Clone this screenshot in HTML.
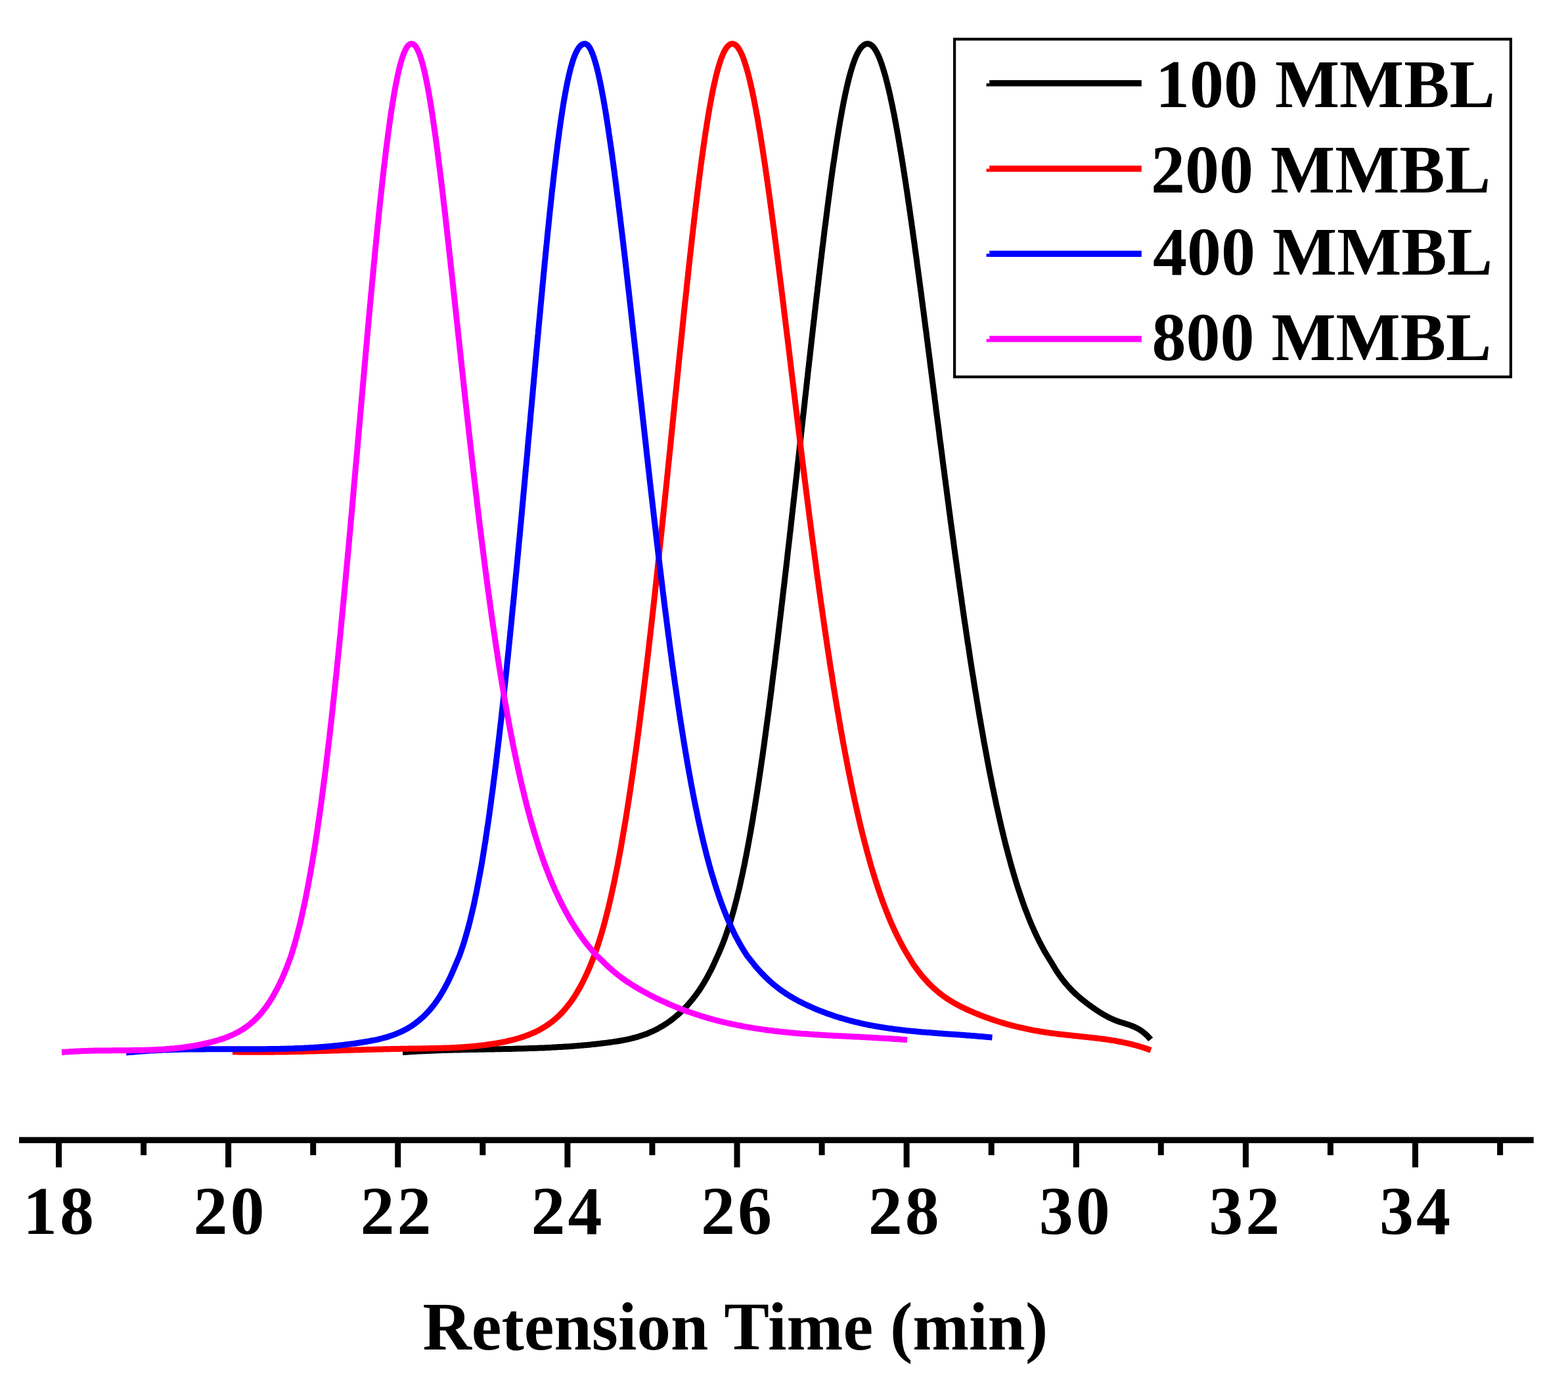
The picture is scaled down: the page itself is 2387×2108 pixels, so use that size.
<!DOCTYPE html>
<html><head><meta charset="utf-8"><title>Retension Time</title>
<style>
html,body{margin:0;padding:0;background:#fff;}
body{width:2387px;height:2108px;overflow:hidden;}
svg{display:block;}
.t{font-family:'Liberation Serif', serif;font-weight:bold;font-size:104px;fill:#000;}
</style></head><body>
<svg width="2387" height="2108" viewBox="0 0 2387 2108">
<path d="M613.0 1601.6L616.0 1601.4L619.0 1601.2L622.0 1601.0L625.1 1600.8L628.1 1600.6L631.1 1600.5L634.1 1600.3L637.1 1600.1L640.1 1600.0L643.1 1599.8L646.2 1599.7L649.2 1599.5L652.2 1599.4L655.2 1599.3L658.2 1599.2L661.2 1599.0L664.2 1598.9L667.3 1598.8L670.3 1598.7L673.3 1598.6L676.3 1598.5L679.3 1598.4L682.3 1598.3L685.3 1598.2L688.4 1598.2L691.4 1598.1L694.4 1598.0L697.4 1597.9L700.4 1597.9L703.4 1597.8L706.4 1597.7L709.5 1597.7L712.5 1597.6L715.5 1597.6L718.5 1597.5L721.5 1597.4L724.5 1597.4L727.6 1597.3L730.6 1597.3L733.6 1597.2L736.6 1597.2L739.6 1597.1L742.6 1597.1L745.6 1597.0L748.7 1597.0L751.7 1596.9L754.7 1596.8L757.7 1596.8L760.7 1596.7L763.7 1596.7L766.7 1596.6L769.8 1596.6L772.8 1596.5L775.8 1596.4L778.8 1596.4L781.8 1596.3L784.8 1596.2L787.8 1596.1L790.9 1596.1L793.9 1596.0L796.9 1595.9L799.9 1595.8L802.9 1595.7L805.9 1595.6L808.9 1595.5L812.0 1595.4L815.0 1595.3L818.0 1595.2L821.0 1595.1L824.0 1595.0L827.0 1594.9L830.0 1594.7L833.1 1594.6L836.1 1594.4L839.1 1594.3L842.1 1594.1L845.1 1594.0L848.1 1593.8L851.1 1593.6L854.2 1593.5L857.2 1593.3L860.2 1593.1L863.2 1592.9L866.2 1592.7L869.2 1592.5L872.2 1592.2L875.3 1592.0L878.3 1591.8L881.3 1591.5L884.3 1591.3L887.3 1591.0L890.3 1590.7L893.3 1590.5L896.4 1590.2L899.4 1589.9L902.4 1589.5L905.4 1589.2L908.4 1588.9L911.4 1588.6L914.4 1588.2L917.5 1587.8L920.5 1587.5L923.5 1587.1L926.5 1586.7L929.5 1586.3L932.5 1585.9L935.5 1585.4L938.6 1585.0L941.6 1584.5L944.6 1584.0L947.6 1583.5L950.6 1582.9L953.6 1582.3L956.7 1581.7L959.7 1581.0L962.7 1580.2L965.7 1579.5L968.7 1578.6L971.7 1577.8L974.7 1576.8L977.8 1575.8L980.8 1574.8L983.8 1573.7L986.8 1572.5L989.8 1571.2L992.8 1569.9L995.8 1568.5L998.9 1567.0L1001.9 1565.4L1004.9 1563.7L1007.9 1562.0L1010.9 1560.1L1013.9 1558.2L1016.9 1556.1L1020.0 1554.0L1023.0 1551.8L1026.0 1549.4L1029.0 1546.9L1032.0 1544.3L1035.0 1541.6L1038.0 1538.8L1041.1 1535.8L1044.1 1532.7L1047.1 1529.4L1050.1 1525.9L1053.1 1522.3L1056.1 1518.6L1059.1 1514.6L1062.2 1510.5L1065.2 1506.1L1068.2 1501.5L1071.2 1496.6L1074.2 1491.5L1077.2 1486.2L1080.2 1480.5L1083.3 1474.6L1086.3 1468.3L1092.3 1455.0L1095.6 1447.6L1098.7 1440.2L1101.6 1432.8L1104.4 1425.4L1106.9 1418.0L1109.4 1410.7L1111.7 1403.4L1113.9 1396.0L1116.0 1388.7L1118.0 1381.5L1119.9 1374.2L1121.8 1366.9L1123.5 1359.7L1125.3 1352.5L1126.9 1345.2L1128.5 1338.0L1130.1 1330.9L1131.6 1323.7L1133.1 1316.6L1134.5 1309.4L1135.9 1302.3L1137.3 1295.2L1138.6 1288.1L1139.9 1281.0L1141.2 1274.0L1142.5 1266.9L1143.7 1259.9L1144.9 1252.9L1146.1 1245.9L1147.2 1238.9L1148.4 1231.9L1149.5 1225.0L1150.6 1218.1L1151.7 1211.1L1152.8 1204.2L1153.8 1197.4L1154.9 1190.5L1155.9 1183.6L1156.9 1176.8L1157.9 1170.0L1158.9 1163.2L1159.9 1156.4L1160.9 1149.6L1161.8 1142.8L1162.8 1136.1L1163.7 1129.4L1164.6 1122.6L1165.5 1115.9L1166.4 1109.3L1167.3 1102.6L1168.2 1096.0L1169.1 1089.3L1170.0 1082.7L1170.9 1076.1L1171.7 1069.5L1172.6 1062.9L1173.4 1056.4L1174.3 1049.9L1175.1 1043.3L1175.9 1036.8L1176.7 1030.3L1177.5 1023.9L1178.4 1017.4L1179.2 1011.0L1180.0 1004.6L1180.7 998.2L1181.5 991.8L1182.3 985.4L1183.1 979.0L1183.9 972.7L1184.6 966.4L1185.4 960.1L1186.1 953.8L1186.9 947.5L1187.6 941.3L1188.4 935.0L1189.1 928.8L1189.8 922.6L1190.6 916.4L1191.3 910.2L1192.0 904.1L1192.7 897.9L1193.5 891.8L1194.2 885.7L1194.9 879.6L1195.6 873.6L1196.3 867.5L1197.0 861.5L1197.7 855.4L1198.4 849.4L1199.0 843.5L1199.7 837.5L1200.4 831.5L1201.1 825.6L1201.8 819.7L1202.4 813.8L1203.1 807.9L1203.8 802.1L1204.4 796.2L1205.1 790.4L1205.7 784.6L1206.4 778.8L1207.0 773.0L1207.7 767.2L1208.3 761.5L1209.0 755.8L1209.6 750.1L1210.3 744.4L1210.9 738.7L1211.5 733.1L1212.2 727.4L1212.8 721.8L1213.4 716.2L1214.0 710.6L1214.6 705.1L1215.3 699.5L1215.9 694.0L1216.5 688.5L1217.1 683.0L1217.7 677.5L1218.3 672.1L1218.9 666.7L1219.5 661.2L1220.1 655.9L1220.7 650.5L1221.3 645.1L1221.9 639.8L1222.5 634.5L1223.1 629.1L1223.7 623.9L1224.3 618.6L1224.9 613.3L1225.4 608.1L1226.0 602.9L1226.6 597.7L1227.2 592.5L1227.8 587.4L1228.3 582.3L1228.9 577.1L1229.5 572.0L1230.0 567.0L1230.6 561.9L1231.2 556.9L1231.7 551.9L1232.3 546.9L1232.9 541.9L1233.4 536.9L1234.0 532.0L1234.5 527.1L1235.1 522.2L1235.6 517.3L1236.2 512.4L1236.7 507.6L1237.3 502.7L1237.8 497.9L1238.4 493.2L1238.9 488.4L1239.5 483.7L1240.0 478.9L1240.5 474.2L1241.1 469.5L1241.6 464.9L1242.2 460.2L1242.7 455.6L1243.2 451.0L1243.8 446.4L1244.3 441.9L1244.8 437.3L1245.4 432.8L1245.9 428.3L1246.4 423.9L1246.9 419.4L1247.5 415.0L1248.0 410.6L1248.5 406.2L1249.0 401.8L1249.5 397.4L1250.1 393.1L1250.6 388.8L1251.1 384.5L1251.6 380.3L1252.1 376.0L1252.7 371.8L1253.2 367.6L1253.7 363.4L1254.2 359.3L1254.7 355.1L1255.2 351.0L1255.7 346.9L1256.2 342.9L1256.8 338.8L1257.3 334.8L1257.8 330.8L1258.3 326.8L1258.8 322.9L1259.3 318.9L1259.8 315.0L1260.3 311.1L1260.8 307.3L1261.3 303.4L1261.8 299.6L1262.3 295.8L1262.8 292.1L1263.3 288.3L1263.8 284.6L1264.3 280.9L1264.8 277.2L1265.3 273.6L1265.8 269.9L1266.3 266.3L1266.8 262.8L1267.3 259.2L1267.8 255.7L1268.3 252.2L1268.8 248.7L1269.4 245.2L1269.9 241.8L1270.4 238.4L1270.9 235.0L1271.4 231.7L1271.9 228.3L1272.4 225.0L1272.9 221.7L1273.4 218.5L1273.9 215.3L1274.4 212.1L1274.9 208.9L1275.4 205.7L1275.9 202.6L1276.4 199.5L1276.9 196.5L1277.4 193.4L1277.9 190.4L1278.4 187.4L1278.9 184.4L1279.5 181.5L1280.0 178.6L1280.5 175.7L1281.0 172.9L1281.5 170.1L1282.0 167.3L1282.5 164.5L1283.1 161.8L1283.6 159.1L1284.1 156.4L1284.6 153.8L1285.2 151.1L1285.7 148.6L1286.2 146.0L1286.7 143.5L1287.3 141.0L1287.8 138.5L1288.4 136.1L1288.9 133.7L1289.4 131.3L1290.0 129.0L1290.5 126.7L1291.1 124.4L1291.6 122.2L1292.2 120.0L1292.7 117.8L1293.3 115.6L1293.9 113.5L1294.4 111.5L1295.0 109.4L1295.6 107.4L1296.2 105.5L1296.8 103.6L1297.4 101.7L1297.9 99.8L1298.5 98.0L1299.2 96.2L1299.8 94.5L1300.4 92.8L1301.0 91.1L1301.6 89.5L1302.3 87.9L1302.9 86.4L1303.6 84.9L1304.2 83.5L1304.9 82.1L1305.6 80.7L1306.3 79.4L1307.0 78.2L1307.7 77.0L1308.4 75.8L1309.2 74.7L1309.9 73.6L1310.7 72.6L1311.5 71.7L1312.3 70.8L1313.2 70.0L1314.0 69.3L1314.9 68.6L1315.9 68.0L1316.9 67.5L1318.0 67.1L1319.2 66.8L1320.9 66.6L1322.4 66.8L1323.5 67.1L1324.5 67.5L1325.5 68.0L1326.3 68.6L1327.2 69.3L1328.0 70.0L1328.8 70.8L1329.6 71.7L1330.3 72.6L1331.1 73.6L1331.8 74.7L1332.5 75.8L1333.2 77.0L1333.9 78.2L1334.6 79.4L1335.3 80.7L1335.9 82.1L1336.6 83.5L1337.3 84.9L1337.9 86.4L1338.6 87.9L1339.2 89.5L1339.8 91.1L1340.5 92.8L1341.1 94.5L1341.7 96.2L1342.3 98.0L1342.9 99.8L1343.5 101.7L1344.1 103.6L1344.7 105.5L1345.3 107.4L1345.9 109.4L1346.5 111.5L1347.1 113.5L1347.7 115.6L1348.3 117.8L1348.9 120.0L1349.4 122.2L1350.0 124.4L1350.6 126.7L1351.2 129.0L1351.7 131.3L1352.3 133.7L1352.9 136.1L1353.5 138.5L1354.0 141.0L1354.6 143.5L1355.2 146.0L1355.7 148.6L1356.3 151.1L1356.8 153.8L1357.4 156.4L1358.0 159.1L1358.5 161.8L1359.1 164.5L1359.6 167.3L1360.2 170.1L1360.8 172.9L1361.3 175.7L1361.9 178.6L1362.4 181.5L1363.0 184.4L1363.5 187.4L1364.1 190.4L1364.6 193.4L1365.2 196.5L1365.8 199.5L1366.3 202.6L1366.9 205.7L1367.4 208.9L1368.0 212.1L1368.5 215.3L1369.1 218.5L1369.6 221.7L1370.2 225.0L1370.7 228.3L1371.3 231.7L1371.8 235.0L1372.4 238.4L1373.0 241.8L1373.5 245.2L1374.1 248.7L1374.6 252.2L1375.2 255.7L1375.7 259.2L1376.3 262.8L1376.8 266.3L1377.4 269.9L1378.0 273.6L1378.5 277.2L1379.1 280.9L1379.6 284.6L1380.2 288.3L1380.8 292.1L1381.3 295.8L1381.9 299.6L1382.4 303.4L1383.0 307.3L1383.6 311.1L1384.1 315.0L1384.7 318.9L1385.3 322.9L1385.8 326.8L1386.4 330.8L1387.0 334.8L1387.6 338.8L1388.1 342.9L1388.7 346.9L1389.3 351.0L1389.8 355.1L1390.4 359.3L1391.0 363.4L1391.6 367.6L1392.2 371.8L1392.7 376.0L1393.3 380.3L1393.9 384.5L1394.5 388.8L1395.1 393.1L1395.7 397.4L1396.2 401.8L1396.8 406.2L1397.4 410.6L1398.0 415.0L1398.6 419.4L1399.2 423.9L1399.8 428.3L1400.4 432.8L1401.0 437.3L1401.6 441.9L1402.2 446.4L1402.8 451.0L1403.4 455.6L1404.0 460.2L1404.6 464.9L1405.2 469.5L1405.9 474.2L1406.5 478.9L1407.1 483.7L1407.7 488.4L1408.3 493.2L1408.9 497.9L1409.6 502.7L1410.2 507.6L1410.8 512.4L1411.4 517.3L1412.1 522.2L1412.7 527.1L1413.3 532.0L1414.0 536.9L1414.6 541.9L1415.3 546.9L1415.9 551.9L1416.5 556.9L1417.2 561.9L1417.8 567.0L1418.5 572.0L1419.1 577.1L1419.8 582.3L1420.5 587.4L1421.1 592.5L1421.8 597.7L1422.5 602.9L1423.1 608.1L1423.8 613.3L1424.5 618.6L1425.1 623.9L1425.8 629.1L1426.5 634.5L1427.2 639.8L1427.9 645.1L1428.6 650.5L1429.3 655.9L1429.9 661.2L1430.6 666.7L1431.3 672.1L1432.1 677.5L1432.8 683.0L1433.5 688.5L1434.2 694.0L1434.9 699.5L1435.6 705.1L1436.3 710.6L1437.1 716.2L1437.8 721.8L1438.5 727.4L1439.3 733.1L1440.0 738.7L1440.8 744.4L1441.5 750.1L1442.3 755.8L1443.0 761.5L1443.8 767.2L1444.5 773.0L1445.3 778.8L1446.1 784.6L1446.8 790.4L1447.6 796.2L1448.4 802.1L1449.2 807.9L1450.0 813.8L1450.8 819.7L1451.6 825.6L1452.4 831.5L1453.2 837.5L1454.0 843.5L1454.8 849.4L1455.7 855.4L1456.5 861.5L1457.3 867.5L1458.2 873.6L1459.0 879.6L1459.9 885.7L1460.7 891.8L1461.6 897.9L1462.5 904.1L1463.4 910.2L1464.2 916.4L1465.1 922.6L1466.0 928.8L1466.9 935.0L1467.8 941.3L1468.7 947.5L1469.7 953.8L1470.6 960.1L1471.5 966.4L1472.5 972.7L1473.4 979.0L1474.4 985.4L1475.4 991.8L1476.3 998.2L1477.3 1004.6L1478.3 1011.0L1479.3 1017.4L1480.3 1023.9L1481.4 1030.3L1482.4 1036.8L1483.4 1043.3L1484.5 1049.9L1485.6 1056.4L1486.6 1062.9L1487.7 1069.5L1488.8 1076.1L1489.9 1082.7L1491.0 1089.3L1492.2 1096.0L1493.3 1102.6L1494.5 1109.3L1495.7 1115.9L1496.8 1122.6L1498.0 1129.4L1499.3 1136.1L1500.5 1142.8L1501.8 1149.6L1503.0 1156.4L1504.3 1163.2L1505.6 1170.0L1506.9 1176.8L1508.3 1183.6L1509.7 1190.5L1511.0 1197.4L1512.5 1204.2L1513.9 1211.1L1515.4 1218.1L1516.8 1225.0L1518.4 1231.9L1519.9 1238.9L1521.5 1245.9L1523.1 1252.9L1524.7 1259.9L1526.4 1266.9L1528.1 1274.0L1529.8 1281.0L1531.6 1288.1L1533.5 1295.2L1535.3 1302.3L1537.3 1309.4L1539.2 1316.6L1541.3 1323.7L1543.4 1330.9L1545.5 1338.0L1547.7 1345.2L1550.0 1352.5L1552.4 1359.7L1554.9 1366.9L1557.4 1374.2L1560.0 1381.5L1562.8 1388.7L1565.6 1396.0L1568.6 1403.4L1571.8 1410.7L1575.0 1418.0L1578.5 1425.4L1582.1 1432.8L1586.0 1440.2L1590.0 1447.6L1594.4 1455.0L1601.3 1466.1L1602.3 1467.8L1603.3 1469.5L1604.3 1471.1L1605.3 1472.8L1606.2 1474.4L1607.2 1476.0L1608.2 1477.5L1609.2 1479.1L1610.2 1480.6L1611.2 1482.0L1612.2 1483.5L1613.2 1484.9L1614.2 1486.3L1615.2 1487.7L1616.1 1489.0L1617.1 1490.3L1618.1 1491.6L1619.1 1492.9L1620.1 1494.1L1621.1 1495.4L1622.1 1496.6L1623.1 1497.7L1624.1 1498.9L1625.0 1500.0L1626.0 1501.2L1627.0 1502.3L1628.0 1503.3L1629.0 1504.4L1630.0 1505.4L1631.0 1506.5L1632.0 1507.5L1633.0 1508.5L1634.0 1509.4L1634.9 1510.4L1635.9 1511.3L1636.9 1512.3L1637.9 1513.2L1638.9 1514.1L1639.9 1515.0L1640.9 1515.9L1641.9 1516.7L1642.9 1517.6L1643.8 1518.4L1644.8 1519.3L1645.8 1520.1L1646.8 1520.9L1647.8 1521.7L1648.8 1522.5L1649.8 1523.3L1650.8 1524.1L1651.8 1524.8L1652.8 1525.6L1653.7 1526.4L1654.7 1527.1L1655.7 1527.9L1656.7 1528.6L1657.7 1529.3L1658.7 1530.1L1659.7 1530.8L1660.7 1531.5L1661.7 1532.2L1662.6 1532.9L1663.6 1533.6L1664.6 1534.3L1665.6 1535.0L1666.6 1535.7L1667.6 1536.4L1668.6 1537.0L1669.6 1537.7L1670.6 1538.3L1671.6 1539.0L1672.5 1539.6L1673.5 1540.3L1674.5 1540.9L1675.5 1541.5L1676.5 1542.1L1677.5 1542.7L1678.5 1543.3L1679.5 1543.9L1680.5 1544.4L1681.4 1545.0L1682.4 1545.6L1683.4 1546.1L1684.4 1546.6L1685.4 1547.2L1686.4 1547.7L1687.4 1548.2L1688.4 1548.7L1689.4 1549.2L1690.4 1549.6L1691.3 1550.1L1692.3 1550.6L1693.3 1551.0L1694.3 1551.5L1695.3 1551.9L1696.3 1552.3L1697.3 1552.7L1698.3 1553.1L1699.3 1553.5L1700.2 1553.9L1701.2 1554.2L1702.2 1554.6L1703.2 1554.9L1704.2 1555.3L1705.2 1555.6L1706.2 1555.9L1707.2 1556.2L1708.2 1556.5L1709.2 1556.8L1710.1 1557.1L1711.1 1557.4L1712.1 1557.7L1713.1 1558.0L1714.1 1558.4L1715.1 1558.7L1716.1 1559.0L1717.1 1559.3L1718.1 1559.6L1719.0 1560.0L1720.0 1560.3L1721.0 1560.7L1722.0 1561.0L1723.0 1561.4L1724.0 1561.8L1725.0 1562.2L1726.0 1562.6L1727.0 1563.0L1728.0 1563.5L1728.9 1563.9L1729.9 1564.4L1730.9 1564.9L1731.9 1565.5L1732.9 1566.0L1733.9 1566.6L1734.9 1567.2L1735.9 1567.8L1736.9 1568.5L1737.8 1569.2L1738.8 1569.9L1739.8 1570.6L1740.8 1571.4L1741.8 1572.2L1742.8 1573.0L1743.8 1573.9L1744.8 1574.8L1745.8 1575.7L1746.8 1576.7L1747.7 1577.7L1748.7 1578.8L1749.7 1579.9L1750.7 1581.0L1751.7 1582.2" fill="none" stroke="#000000" stroke-width="9.0" stroke-linejoin="round" stroke-linecap="butt"/>
<path d="M354.0 1601.0L357.5 1601.1L360.9 1601.1L364.4 1601.2L367.8 1601.2L371.3 1601.2L374.8 1601.3L378.2 1601.3L381.7 1601.3L385.2 1601.3L388.6 1601.3L392.1 1601.3L395.5 1601.3L399.0 1601.3L402.5 1601.3L405.9 1601.3L409.4 1601.2L412.9 1601.2L416.3 1601.2L419.8 1601.1L423.2 1601.1L426.7 1601.0L430.2 1601.0L433.6 1600.9L437.1 1600.9L440.6 1600.8L444.0 1600.7L447.5 1600.7L450.9 1600.6L454.4 1600.5L457.9 1600.4L461.3 1600.4L464.8 1600.3L468.2 1600.2L471.7 1600.1L475.2 1600.0L478.6 1599.9L482.1 1599.8L485.6 1599.7L489.0 1599.6L492.5 1599.5L495.9 1599.4L499.4 1599.3L502.9 1599.2L506.3 1599.1L509.8 1599.0L513.3 1598.9L516.7 1598.8L520.2 1598.7L523.6 1598.6L527.1 1598.5L530.6 1598.4L534.0 1598.3L537.5 1598.2L541.0 1598.1L544.4 1598.0L547.9 1597.9L551.3 1597.8L554.8 1597.7L558.3 1597.6L561.7 1597.5L565.2 1597.4L568.7 1597.3L572.1 1597.2L575.6 1597.1L579.0 1597.0L582.5 1596.9L586.0 1596.8L589.4 1596.8L592.9 1596.7L596.3 1596.6L599.8 1596.5L603.3 1596.5L606.7 1596.4L610.2 1596.3L613.7 1596.3L617.1 1596.2L620.6 1596.2L624.0 1596.1L627.5 1596.1L631.0 1596.0L634.4 1596.0L637.9 1595.9L641.4 1595.9L644.8 1595.8L648.3 1595.8L651.7 1595.7L655.2 1595.6L658.7 1595.6L662.1 1595.5L665.6 1595.4L669.1 1595.3L672.5 1595.2L676.0 1595.1L679.4 1595.0L682.9 1594.9L686.4 1594.7L689.8 1594.6L693.3 1594.4L696.7 1594.2L700.2 1594.0L703.7 1593.8L707.1 1593.6L710.6 1593.3L714.1 1593.0L717.5 1592.7L721.0 1592.4L724.4 1592.1L727.9 1591.7L731.4 1591.3L734.8 1590.9L738.3 1590.5L741.8 1590.0L745.2 1589.5L748.7 1589.0L752.1 1588.5L755.6 1587.9L759.1 1587.3L762.5 1586.6L766.0 1586.0L769.5 1585.3L772.9 1584.5L776.4 1583.7L779.8 1582.9L783.3 1582.0L786.8 1581.0L790.2 1580.0L793.7 1578.9L797.2 1577.8L800.6 1576.6L804.1 1575.3L807.5 1573.9L811.0 1572.4L814.5 1570.8L817.9 1569.2L821.4 1567.4L824.8 1565.4L828.3 1563.4L831.8 1561.2L835.2 1558.8L838.7 1556.3L842.2 1553.6L845.6 1550.7L849.1 1547.6L852.5 1544.2L856.0 1540.7L859.5 1536.8L862.9 1532.7L866.4 1528.3L869.9 1523.6L873.3 1518.6L876.8 1513.2L880.2 1507.4L883.7 1501.2L887.2 1494.6L890.6 1487.6L894.1 1480.1L897.6 1472.1L904.5 1455.0L907.1 1447.6L909.6 1440.2L912.0 1432.8L914.3 1425.4L916.5 1418.0L918.6 1410.7L920.6 1403.4L922.5 1396.0L924.4 1388.7L926.2 1381.5L927.9 1374.2L929.6 1366.9L931.2 1359.7L932.8 1352.5L934.4 1345.2L935.9 1338.0L937.3 1330.9L938.8 1323.7L940.2 1316.6L941.5 1309.4L942.9 1302.3L944.2 1295.2L945.5 1288.1L946.7 1281.0L947.9 1274.0L949.1 1266.9L950.3 1259.9L951.5 1252.9L952.7 1245.9L953.8 1238.9L954.9 1231.9L956.0 1225.0L957.1 1218.1L958.1 1211.1L959.2 1204.2L960.2 1197.4L961.2 1190.5L962.2 1183.6L963.2 1176.8L964.2 1170.0L965.1 1163.2L966.1 1156.4L967.0 1149.6L968.0 1142.8L968.9 1136.1L969.8 1129.4L970.7 1122.6L971.6 1115.9L972.5 1109.3L973.3 1102.6L974.2 1096.0L975.0 1089.3L975.9 1082.7L976.7 1076.1L977.5 1069.5L978.4 1062.9L979.2 1056.4L980.0 1049.9L980.8 1043.3L981.6 1036.8L982.4 1030.3L983.1 1023.9L983.9 1017.4L984.7 1011.0L985.4 1004.6L986.2 998.2L986.9 991.8L987.7 985.4L988.4 979.0L989.1 972.7L989.9 966.4L990.6 960.1L991.3 953.8L992.0 947.5L992.7 941.3L993.4 935.0L994.1 928.8L994.8 922.6L995.5 916.4L996.2 910.2L996.9 904.1L997.5 897.9L998.2 891.8L998.9 885.7L999.5 879.6L1000.2 873.6L1000.8 867.5L1001.5 861.5L1002.1 855.4L1002.8 849.4L1003.4 843.5L1004.0 837.5L1004.7 831.5L1005.3 825.6L1005.9 819.7L1006.6 813.8L1007.2 807.9L1007.8 802.1L1008.4 796.2L1009.0 790.4L1009.6 784.6L1010.2 778.8L1010.8 773.0L1011.4 767.2L1012.0 761.5L1012.6 755.8L1013.2 750.1L1013.8 744.4L1014.4 738.7L1014.9 733.1L1015.5 727.4L1016.1 721.8L1016.7 716.2L1017.2 710.6L1017.8 705.1L1018.4 699.5L1018.9 694.0L1019.5 688.5L1020.1 683.0L1020.6 677.5L1021.2 672.1L1021.7 666.7L1022.3 661.2L1022.8 655.9L1023.4 650.5L1023.9 645.1L1024.5 639.8L1025.0 634.5L1025.5 629.1L1026.1 623.9L1026.6 618.6L1027.1 613.3L1027.7 608.1L1028.2 602.9L1028.7 597.7L1029.3 592.5L1029.8 587.4L1030.3 582.3L1030.8 577.1L1031.3 572.0L1031.9 567.0L1032.4 561.9L1032.9 556.9L1033.4 551.9L1033.9 546.9L1034.4 541.9L1034.9 536.9L1035.4 532.0L1036.0 527.1L1036.5 522.2L1037.0 517.3L1037.5 512.4L1038.0 507.6L1038.5 502.7L1039.0 497.9L1039.5 493.2L1040.0 488.4L1040.4 483.7L1040.9 478.9L1041.4 474.2L1041.9 469.5L1042.4 464.9L1042.9 460.2L1043.4 455.6L1043.9 451.0L1044.4 446.4L1044.9 441.9L1045.3 437.3L1045.8 432.8L1046.3 428.3L1046.8 423.9L1047.3 419.4L1047.7 415.0L1048.2 410.6L1048.7 406.2L1049.2 401.8L1049.7 397.4L1050.1 393.1L1050.6 388.8L1051.1 384.5L1051.6 380.3L1052.0 376.0L1052.5 371.8L1053.0 367.6L1053.4 363.4L1053.9 359.3L1054.4 355.1L1054.9 351.0L1055.3 346.9L1055.8 342.9L1056.3 338.8L1056.7 334.8L1057.2 330.8L1057.7 326.8L1058.1 322.9L1058.6 318.9L1059.1 315.0L1059.5 311.1L1060.0 307.3L1060.5 303.4L1060.9 299.6L1061.4 295.8L1061.8 292.1L1062.3 288.3L1062.8 284.6L1063.2 280.9L1063.7 277.2L1064.2 273.6L1064.6 269.9L1065.1 266.3L1065.6 262.8L1066.0 259.2L1066.5 255.7L1066.9 252.2L1067.4 248.7L1067.9 245.2L1068.3 241.8L1068.8 238.4L1069.3 235.0L1069.7 231.7L1070.2 228.3L1070.7 225.0L1071.1 221.7L1071.6 218.5L1072.1 215.3L1072.5 212.1L1073.0 208.9L1073.5 205.7L1073.9 202.6L1074.4 199.5L1074.9 196.5L1075.4 193.4L1075.8 190.4L1076.3 187.4L1076.8 184.4L1077.3 181.5L1077.7 178.6L1078.2 175.7L1078.7 172.9L1079.2 170.1L1079.6 167.3L1080.1 164.5L1080.6 161.8L1081.1 159.1L1081.6 156.4L1082.1 153.8L1082.6 151.1L1083.0 148.6L1083.5 146.0L1084.0 143.5L1084.5 141.0L1085.0 138.5L1085.5 136.1L1086.0 133.7L1086.5 131.3L1087.0 129.0L1087.5 126.7L1088.1 124.4L1088.6 122.2L1089.1 120.0L1089.6 117.8L1090.1 115.6L1090.6 113.5L1091.2 111.5L1091.7 109.4L1092.2 107.4L1092.8 105.5L1093.3 103.6L1093.8 101.7L1094.4 99.8L1095.0 98.0L1095.5 96.2L1096.1 94.5L1096.6 92.8L1097.2 91.1L1097.8 89.5L1098.4 87.9L1099.0 86.4L1099.6 84.9L1100.2 83.5L1100.8 82.1L1101.4 80.7L1102.0 79.4L1102.6 78.2L1103.3 77.0L1104.0 75.8L1104.6 74.7L1105.3 73.6L1106.0 72.6L1106.7 71.7L1107.4 70.8L1108.2 70.0L1109.0 69.3L1109.8 68.6L1110.6 68.0L1111.5 67.5L1112.5 67.1L1113.5 66.8L1115.0 66.6L1116.4 66.8L1117.4 67.1L1118.3 67.5L1119.2 68.0L1120.0 68.6L1120.8 69.3L1121.5 70.0L1122.3 70.8L1123.0 71.7L1123.7 72.6L1124.4 73.6L1125.0 74.7L1125.7 75.8L1126.3 77.0L1127.0 78.2L1127.6 79.4L1128.2 80.7L1128.9 82.1L1129.5 83.5L1130.1 84.9L1130.7 86.4L1131.3 87.9L1131.9 89.5L1132.4 91.1L1133.0 92.8L1133.6 94.5L1134.2 96.2L1134.7 98.0L1135.3 99.8L1135.9 101.7L1136.4 103.6L1137.0 105.5L1137.5 107.4L1138.1 109.4L1138.6 111.5L1139.2 113.5L1139.7 115.6L1140.3 117.8L1140.8 120.0L1141.3 122.2L1141.9 124.4L1142.4 126.7L1142.9 129.0L1143.5 131.3L1144.0 133.7L1144.5 136.1L1145.1 138.5L1145.6 141.0L1146.1 143.5L1146.6 146.0L1147.2 148.6L1147.7 151.1L1148.2 153.8L1148.7 156.4L1149.2 159.1L1149.8 161.8L1150.3 164.5L1150.8 167.3L1151.3 170.1L1151.8 172.9L1152.3 175.7L1152.9 178.6L1153.4 181.5L1153.9 184.4L1154.4 187.4L1154.9 190.4L1155.4 193.4L1155.9 196.5L1156.5 199.5L1157.0 202.6L1157.5 205.7L1158.0 208.9L1158.5 212.1L1159.0 215.3L1159.5 218.5L1160.0 221.7L1160.6 225.0L1161.1 228.3L1161.6 231.7L1162.1 235.0L1162.6 238.4L1163.1 241.8L1163.6 245.2L1164.2 248.7L1164.7 252.2L1165.2 255.7L1165.7 259.2L1166.2 262.8L1166.7 266.3L1167.3 269.9L1167.8 273.6L1168.3 277.2L1168.8 280.9L1169.3 284.6L1169.9 288.3L1170.4 292.1L1170.9 295.8L1171.4 299.6L1172.0 303.4L1172.5 307.3L1173.0 311.1L1173.5 315.0L1174.1 318.9L1174.6 322.9L1175.1 326.8L1175.6 330.8L1176.2 334.8L1176.7 338.8L1177.2 342.9L1177.8 346.9L1178.3 351.0L1178.8 355.1L1179.4 359.3L1179.9 363.4L1180.5 367.6L1181.0 371.8L1181.5 376.0L1182.1 380.3L1182.6 384.5L1183.2 388.8L1183.7 393.1L1184.3 397.4L1184.8 401.8L1185.4 406.2L1185.9 410.6L1186.5 415.0L1187.0 419.4L1187.6 423.9L1188.1 428.3L1188.7 432.8L1189.3 437.3L1189.8 441.9L1190.4 446.4L1191.0 451.0L1191.5 455.6L1192.1 460.2L1192.7 464.9L1193.2 469.5L1193.8 474.2L1194.4 478.9L1195.0 483.7L1195.6 488.4L1196.1 493.2L1196.7 497.9L1197.3 502.7L1197.9 507.6L1198.5 512.4L1199.1 517.3L1199.7 522.2L1200.3 527.1L1200.9 532.0L1201.5 536.9L1202.1 541.9L1202.7 546.9L1203.3 551.9L1203.9 556.9L1204.5 561.9L1205.1 567.0L1205.7 572.0L1206.3 577.1L1207.0 582.3L1207.6 587.4L1208.2 592.5L1208.8 597.7L1209.5 602.9L1210.1 608.1L1210.7 613.3L1211.4 618.6L1212.0 623.9L1212.7 629.1L1213.3 634.5L1214.0 639.8L1214.6 645.1L1215.3 650.5L1215.9 655.9L1216.6 661.2L1217.3 666.7L1217.9 672.1L1218.6 677.5L1219.3 683.0L1220.0 688.5L1220.6 694.0L1221.3 699.5L1222.0 705.1L1222.7 710.6L1223.4 716.2L1224.1 721.8L1224.8 727.4L1225.5 733.1L1226.2 738.7L1226.9 744.4L1227.6 750.1L1228.4 755.8L1229.1 761.5L1229.8 767.2L1230.6 773.0L1231.3 778.8L1232.0 784.6L1232.8 790.4L1233.6 796.2L1234.3 802.1L1235.1 807.9L1235.8 813.8L1236.6 819.7L1237.4 825.6L1238.2 831.5L1239.0 837.5L1239.8 843.5L1240.6 849.4L1241.4 855.4L1242.2 861.5L1243.0 867.5L1243.8 873.6L1244.6 879.6L1245.5 885.7L1246.3 891.8L1247.1 897.9L1248.0 904.1L1248.9 910.2L1249.7 916.4L1250.6 922.6L1251.5 928.8L1252.4 935.0L1253.3 941.3L1254.2 947.5L1255.1 953.8L1256.0 960.1L1256.9 966.4L1257.9 972.7L1258.8 979.0L1259.7 985.4L1260.7 991.8L1261.7 998.2L1262.7 1004.6L1263.6 1011.0L1264.6 1017.4L1265.7 1023.9L1266.7 1030.3L1267.7 1036.8L1268.7 1043.3L1269.8 1049.9L1270.9 1056.4L1271.9 1062.9L1273.0 1069.5L1274.1 1076.1L1275.2 1082.7L1276.4 1089.3L1277.5 1096.0L1278.7 1102.6L1279.8 1109.3L1281.0 1115.9L1282.2 1122.6L1283.4 1129.4L1284.7 1136.1L1285.9 1142.8L1287.2 1149.6L1288.5 1156.4L1289.8 1163.2L1291.1 1170.0L1292.5 1176.8L1293.9 1183.6L1295.3 1190.5L1296.7 1197.4L1298.1 1204.2L1299.6 1211.1L1301.1 1218.1L1302.6 1225.0L1304.2 1231.9L1305.8 1238.9L1307.4 1245.9L1309.0 1252.9L1310.7 1259.9L1312.4 1266.9L1314.2 1274.0L1316.0 1281.0L1317.9 1288.1L1319.7 1295.2L1321.7 1302.3L1323.7 1309.4L1325.7 1316.6L1327.8 1323.7L1330.0 1330.9L1332.2 1338.0L1334.5 1345.2L1336.9 1352.5L1339.4 1359.7L1341.9 1366.9L1344.5 1374.2L1347.3 1381.5L1350.1 1388.7L1353.1 1396.0L1356.2 1403.4L1359.4 1410.7L1362.8 1418.0L1366.3 1425.4L1370.1 1432.8L1374.0 1440.2L1378.2 1447.6L1382.6 1455.0L1389.6 1466.4L1391.9 1469.8L1394.3 1473.1L1396.6 1476.3L1398.9 1479.3L1401.2 1482.3L1403.5 1485.1L1405.9 1487.9L1408.2 1490.5L1410.5 1493.1L1412.8 1495.6L1415.2 1498.0L1417.5 1500.3L1419.8 1502.5L1422.1 1504.6L1424.5 1506.7L1426.8 1508.7L1429.1 1510.6L1431.4 1512.4L1433.7 1514.2L1436.1 1516.0L1438.4 1517.6L1440.7 1519.2L1443.0 1520.8L1445.4 1522.3L1447.7 1523.7L1450.0 1525.1L1452.3 1526.5L1454.7 1527.8L1457.0 1529.0L1459.3 1530.3L1461.6 1531.5L1463.9 1532.6L1466.3 1533.8L1468.6 1534.9L1470.9 1536.0L1473.2 1537.0L1475.6 1538.1L1477.9 1539.1L1480.2 1540.1L1482.5 1541.1L1484.8 1542.1L1487.2 1543.0L1489.5 1544.0L1491.8 1544.9L1494.1 1545.8L1496.5 1546.7L1498.8 1547.6L1501.1 1548.5L1503.4 1549.3L1505.8 1550.1L1508.1 1550.9L1510.4 1551.7L1512.7 1552.5L1515.0 1553.3L1517.4 1554.0L1519.7 1554.8L1522.0 1555.5L1524.3 1556.2L1526.7 1556.9L1529.0 1557.6L1531.3 1558.3L1533.6 1558.9L1536.0 1559.6L1538.3 1560.2L1540.6 1560.8L1542.9 1561.4L1545.2 1562.0L1547.6 1562.6L1549.9 1563.1L1552.2 1563.7L1554.5 1564.2L1556.9 1564.7L1559.2 1565.2L1561.5 1565.7L1563.8 1566.2L1566.2 1566.7L1568.5 1567.2L1570.8 1567.6L1573.1 1568.1L1575.4 1568.5L1577.8 1568.9L1580.1 1569.3L1582.4 1569.7L1584.7 1570.1L1587.1 1570.5L1589.4 1570.8L1591.7 1571.2L1594.0 1571.5L1596.4 1571.9L1598.7 1572.2L1601.0 1572.5L1603.3 1572.8L1605.6 1573.1L1608.0 1573.4L1610.3 1573.7L1612.6 1574.0L1614.9 1574.3L1617.3 1574.5L1619.6 1574.8L1621.9 1575.1L1624.2 1575.3L1626.6 1575.6L1628.9 1575.8L1631.2 1576.0L1633.5 1576.3L1635.8 1576.5L1638.2 1576.8L1640.5 1577.0L1642.8 1577.2L1645.1 1577.5L1647.5 1577.7L1649.8 1578.0L1652.1 1578.2L1654.4 1578.4L1656.8 1578.7L1659.1 1578.9L1661.4 1579.2L1663.7 1579.5L1666.0 1579.7L1668.4 1580.0L1670.7 1580.3L1673.0 1580.6L1675.3 1580.9L1677.7 1581.2L1680.0 1581.5L1682.3 1581.8L1684.6 1582.1L1687.0 1582.5L1689.3 1582.8L1691.6 1583.2L1693.9 1583.6L1696.2 1583.9L1698.6 1584.3L1700.9 1584.8L1703.2 1585.2L1705.5 1585.6L1707.9 1586.1L1710.2 1586.6L1712.5 1587.1L1714.8 1587.6L1717.2 1588.1L1719.5 1588.6L1721.8 1589.2L1724.1 1589.8L1726.4 1590.4L1728.8 1591.0L1731.1 1591.6L1733.4 1592.3L1735.7 1593.0L1738.1 1593.7L1740.4 1594.4L1742.7 1595.2L1745.0 1595.9L1747.4 1596.7L1749.7 1597.6L1752.0 1598.4" fill="none" stroke="#ff0000" stroke-width="9.0" stroke-linejoin="round" stroke-linecap="butt"/>
<path d="M192.0 1602.1L195.2 1601.8L198.4 1601.4L201.6 1601.2L204.8 1600.9L208.0 1600.6L211.1 1600.4L214.3 1600.1L217.5 1599.9L220.7 1599.7L223.9 1599.4L227.1 1599.2L230.3 1599.1L233.5 1598.9L236.7 1598.7L239.9 1598.5L243.0 1598.4L246.2 1598.2L249.4 1598.1L252.6 1598.0L255.8 1597.9L259.0 1597.8L262.2 1597.7L265.4 1597.6L268.6 1597.5L271.8 1597.4L274.9 1597.3L278.1 1597.2L281.3 1597.2L284.5 1597.1L287.7 1597.1L290.9 1597.0L294.1 1597.0L297.3 1597.0L300.5 1596.9L303.7 1596.9L306.8 1596.9L310.0 1596.9L313.2 1596.8L316.4 1596.8L319.6 1596.8L322.8 1596.8L326.0 1596.8L329.2 1596.8L332.4 1596.8L335.6 1596.8L338.8 1596.8L341.9 1596.8L345.1 1596.8L348.3 1596.8L351.5 1596.8L354.7 1596.8L357.9 1596.8L361.1 1596.8L364.3 1596.8L367.5 1596.8L370.7 1596.8L373.8 1596.8L377.0 1596.8L380.2 1596.8L383.4 1596.8L386.6 1596.8L389.8 1596.8L393.0 1596.8L396.2 1596.7L399.4 1596.7L402.6 1596.7L405.7 1596.7L408.9 1596.6L412.1 1596.6L415.3 1596.5L418.5 1596.5L421.7 1596.4L424.9 1596.4L428.1 1596.3L431.3 1596.2L434.5 1596.2L437.7 1596.1L440.8 1596.0L444.0 1595.9L447.2 1595.8L450.4 1595.6L453.6 1595.5L456.8 1595.4L460.0 1595.2L463.2 1595.1L466.4 1594.9L469.6 1594.8L472.7 1594.6L475.9 1594.4L479.1 1594.2L482.3 1594.0L485.5 1593.8L488.7 1593.5L491.9 1593.3L495.1 1593.0L498.3 1592.8L501.5 1592.5L504.6 1592.2L507.8 1591.9L511.0 1591.6L514.2 1591.3L517.4 1590.9L520.6 1590.6L523.8 1590.2L527.0 1589.8L530.2 1589.4L533.4 1589.0L536.5 1588.6L539.7 1588.2L542.9 1587.7L546.1 1587.2L549.3 1586.7L552.5 1586.2L555.7 1585.7L558.9 1585.2L562.1 1584.6L565.3 1584.0L568.5 1583.4L571.6 1582.8L574.8 1582.1L578.0 1581.3L581.2 1580.5L584.4 1579.7L587.6 1578.8L590.8 1577.9L594.0 1576.8L597.2 1575.8L600.4 1574.6L603.5 1573.4L606.7 1572.0L609.9 1570.6L613.1 1569.1L616.3 1567.5L619.5 1565.8L622.7 1563.9L625.9 1562.0L629.1 1559.8L632.3 1557.6L635.4 1555.1L638.6 1552.5L641.8 1549.7L645.0 1546.8L648.2 1543.6L651.4 1540.2L654.6 1536.7L657.8 1532.8L661.0 1528.8L664.2 1524.4L667.4 1519.8L670.5 1514.8L673.7 1509.5L676.9 1503.9L680.1 1497.9L683.3 1491.6L686.5 1484.8L689.7 1477.6L692.9 1470.0L699.3 1455.0L701.9 1447.6L704.4 1440.2L706.8 1432.8L709.0 1425.4L711.1 1418.0L713.1 1410.7L715.0 1403.4L716.8 1396.0L718.6 1388.7L720.3 1381.5L721.9 1374.2L723.4 1366.9L724.9 1359.7L726.3 1352.5L727.7 1345.2L729.1 1338.0L730.4 1330.9L731.7 1323.7L733.0 1316.6L734.2 1309.4L735.4 1302.3L736.5 1295.2L737.6 1288.1L738.8 1281.0L739.8 1274.0L740.9 1266.9L741.9 1259.9L743.0 1252.9L744.0 1245.9L745.0 1238.9L745.9 1231.9L746.9 1225.0L747.8 1218.1L748.7 1211.1L749.7 1204.2L750.6 1197.4L751.4 1190.5L752.3 1183.6L753.2 1176.8L754.0 1170.0L754.9 1163.2L755.7 1156.4L756.5 1149.6L757.3 1142.8L758.1 1136.1L758.9 1129.4L759.7 1122.6L760.5 1115.9L761.2 1109.3L762.0 1102.6L762.8 1096.0L763.5 1089.3L764.2 1082.7L765.0 1076.1L765.7 1069.5L766.4 1062.9L767.1 1056.4L767.8 1049.9L768.5 1043.3L769.2 1036.8L769.9 1030.3L770.6 1023.9L771.3 1017.4L771.9 1011.0L772.6 1004.6L773.3 998.2L773.9 991.8L774.6 985.4L775.2 979.0L775.9 972.7L776.5 966.4L777.1 960.1L777.8 953.8L778.4 947.5L779.0 941.3L779.6 935.0L780.2 928.8L780.9 922.6L781.5 916.4L782.1 910.2L782.7 904.1L783.3 897.9L783.8 891.8L784.4 885.7L785.0 879.6L785.6 873.6L786.2 867.5L786.8 861.5L787.3 855.4L787.9 849.4L788.5 843.5L789.0 837.5L789.6 831.5L790.1 825.6L790.7 819.7L791.3 813.8L791.8 807.9L792.3 802.1L792.9 796.2L793.4 790.4L794.0 784.6L794.5 778.8L795.0 773.0L795.6 767.2L796.1 761.5L796.6 755.8L797.1 750.1L797.7 744.4L798.2 738.7L798.7 733.1L799.2 727.4L799.7 721.8L800.2 716.2L800.7 710.6L801.3 705.1L801.8 699.5L802.3 694.0L802.8 688.5L803.3 683.0L803.7 677.5L804.2 672.1L804.7 666.7L805.2 661.2L805.7 655.9L806.2 650.5L806.7 645.1L807.2 639.8L807.6 634.5L808.1 629.1L808.6 623.9L809.1 618.6L809.6 613.3L810.0 608.1L810.5 602.9L811.0 597.7L811.4 592.5L811.9 587.4L812.4 582.3L812.8 577.1L813.3 572.0L813.8 567.0L814.2 561.9L814.7 556.9L815.1 551.9L815.6 546.9L816.0 541.9L816.5 536.9L816.9 532.0L817.4 527.1L817.8 522.2L818.3 517.3L818.7 512.4L819.2 507.6L819.6 502.7L820.1 497.9L820.5 493.2L820.9 488.4L821.4 483.7L821.8 478.9L822.3 474.2L822.7 469.5L823.1 464.9L823.6 460.2L824.0 455.6L824.4 451.0L824.9 446.4L825.3 441.9L825.7 437.3L826.1 432.8L826.6 428.3L827.0 423.9L827.4 419.4L827.8 415.0L828.3 410.6L828.7 406.2L829.1 401.8L829.5 397.4L830.0 393.1L830.4 388.8L830.8 384.5L831.2 380.3L831.6 376.0L832.1 371.8L832.5 367.6L832.9 363.4L833.3 359.3L833.7 355.1L834.1 351.0L834.6 346.9L835.0 342.9L835.4 338.8L835.8 334.8L836.2 330.8L836.6 326.8L837.0 322.9L837.4 318.9L837.9 315.0L838.3 311.1L838.7 307.3L839.1 303.4L839.5 299.6L839.9 295.8L840.3 292.1L840.7 288.3L841.2 284.6L841.6 280.9L842.0 277.2L842.4 273.6L842.8 269.9L843.2 266.3L843.6 262.8L844.0 259.2L844.5 255.7L844.9 252.2L845.3 248.7L845.7 245.2L846.1 241.8L846.5 238.4L846.9 235.0L847.3 231.7L847.8 228.3L848.2 225.0L848.6 221.7L849.0 218.5L849.4 215.3L849.8 212.1L850.3 208.9L850.7 205.7L851.1 202.6L851.5 199.5L851.9 196.5L852.4 193.4L852.8 190.4L853.2 187.4L853.6 184.4L854.1 181.5L854.5 178.6L854.9 175.7L855.4 172.9L855.8 170.1L856.2 167.3L856.7 164.5L857.1 161.8L857.5 159.1L858.0 156.4L858.4 153.8L858.9 151.1L859.3 148.6L859.8 146.0L860.2 143.5L860.7 141.0L861.1 138.5L861.6 136.1L862.0 133.7L862.5 131.3L863.0 129.0L863.4 126.7L863.9 124.4L864.4 122.2L864.9 120.0L865.3 117.8L865.8 115.6L866.3 113.5L866.8 111.5L867.3 109.4L867.8 107.4L868.3 105.5L868.8 103.6L869.3 101.7L869.9 99.8L870.4 98.0L870.9 96.2L871.4 94.5L872.0 92.8L872.5 91.1L873.1 89.5L873.6 87.9L874.2 86.4L874.8 84.9L875.4 83.5L876.0 82.1L876.6 80.7L877.2 79.4L877.8 78.2L878.4 77.0L879.1 75.8L879.8 74.7L880.4 73.6L881.1 72.6L881.8 71.7L882.6 70.8L883.3 70.0L884.1 69.3L884.9 68.6L885.8 68.0L886.7 67.5L887.7 67.1L888.8 66.8L890.4 66.6L891.5 66.8L893.1 67.5L894.6 68.6L895.9 70.0L896.5 70.8L897.1 71.7L897.7 72.6L898.3 73.6L898.8 74.7L899.4 75.8L900.0 77.0L900.5 78.2L901.0 79.4L901.6 80.7L902.1 82.1L902.6 83.5L903.2 84.9L903.7 86.4L904.2 87.9L904.7 89.5L905.2 91.1L905.7 92.8L906.2 94.5L906.7 96.2L907.2 98.0L907.7 99.8L908.2 101.7L908.7 103.6L909.2 105.5L909.6 107.4L910.1 109.4L910.6 111.5L911.1 113.5L911.6 115.6L912.0 117.8L912.5 120.0L913.0 122.2L913.5 124.4L913.9 126.7L914.4 129.0L914.9 131.3L915.3 133.7L915.8 136.1L916.3 138.5L916.7 141.0L917.2 143.5L917.7 146.0L918.1 148.6L918.6 151.1L919.1 153.8L919.5 156.4L920.0 159.1L920.5 161.8L920.9 164.5L921.4 167.3L921.9 170.1L922.3 172.9L922.8 175.7L923.2 178.6L923.7 181.5L924.2 184.4L924.6 187.4L925.1 190.4L925.6 193.4L926.0 196.5L926.5 199.5L926.9 202.6L927.4 205.7L927.9 208.9L928.3 212.1L928.8 215.3L929.3 218.5L929.7 221.7L930.2 225.0L930.7 228.3L931.1 231.7L931.6 235.0L932.1 238.4L932.5 241.8L933.0 245.2L933.5 248.7L933.9 252.2L934.4 255.7L934.9 259.2L935.4 262.8L935.8 266.3L936.3 269.9L936.8 273.6L937.2 277.2L937.7 280.9L938.2 284.6L938.7 288.3L939.1 292.1L939.6 295.8L940.1 299.6L940.6 303.4L941.1 307.3L941.5 311.1L942.0 315.0L942.5 318.9L943.0 322.9L943.5 326.8L944.0 330.8L944.4 334.8L944.9 338.8L945.4 342.9L945.9 346.9L946.4 351.0L946.9 355.1L947.4 359.3L947.9 363.4L948.4 367.6L948.9 371.8L949.4 376.0L949.9 380.3L950.4 384.5L950.9 388.8L951.4 393.1L951.9 397.4L952.4 401.8L952.9 406.2L953.4 410.6L953.9 415.0L954.4 419.4L954.9 423.9L955.4 428.3L955.9 432.8L956.4 437.3L957.0 441.9L957.5 446.4L958.0 451.0L958.5 455.6L959.0 460.2L959.6 464.9L960.1 469.5L960.6 474.2L961.1 478.9L961.7 483.7L962.2 488.4L962.7 493.2L963.3 497.9L963.8 502.7L964.3 507.6L964.9 512.4L965.4 517.3L966.0 522.2L966.5 527.1L967.1 532.0L967.6 536.9L968.2 541.9L968.7 546.9L969.3 551.9L969.8 556.9L970.4 561.9L970.9 567.0L971.5 572.0L972.1 577.1L972.6 582.3L973.2 587.4L973.8 592.5L974.3 597.7L974.9 602.9L975.5 608.1L976.1 613.3L976.7 618.6L977.2 623.9L977.8 629.1L978.4 634.5L979.0 639.8L979.6 645.1L980.2 650.5L980.8 655.9L981.4 661.2L982.0 666.7L982.6 672.1L983.2 677.5L983.8 683.0L984.4 688.5L985.0 694.0L985.7 699.5L986.3 705.1L986.9 710.6L987.5 716.2L988.2 721.8L988.8 727.4L989.4 733.1L990.1 738.7L990.7 744.4L991.4 750.1L992.0 755.8L992.7 761.5L993.3 767.2L994.0 773.0L994.7 778.8L995.3 784.6L996.0 790.4L996.7 796.2L997.4 802.1L998.1 807.9L998.7 813.8L999.4 819.7L1000.1 825.6L1000.8 831.5L1001.5 837.5L1002.2 843.5L1003.0 849.4L1003.7 855.4L1004.4 861.5L1005.1 867.5L1005.9 873.6L1006.6 879.6L1007.3 885.7L1008.1 891.8L1008.8 897.9L1009.6 904.1L1010.4 910.2L1011.1 916.4L1011.9 922.6L1012.7 928.8L1013.5 935.0L1014.3 941.3L1015.1 947.5L1015.9 953.8L1016.7 960.1L1017.5 966.4L1018.4 972.7L1019.2 979.0L1020.0 985.4L1020.9 991.8L1021.8 998.2L1022.6 1004.6L1023.5 1011.0L1024.4 1017.4L1025.3 1023.9L1026.2 1030.3L1027.1 1036.8L1028.0 1043.3L1029.0 1049.9L1029.9 1056.4L1030.9 1062.9L1031.8 1069.5L1032.8 1076.1L1033.8 1082.7L1034.8 1089.3L1035.8 1096.0L1036.9 1102.6L1037.9 1109.3L1039.0 1115.9L1040.0 1122.6L1041.1 1129.4L1042.2 1136.1L1043.3 1142.8L1044.5 1149.6L1045.6 1156.4L1046.8 1163.2L1048.0 1170.0L1049.2 1176.8L1050.5 1183.6L1051.7 1190.5L1053.0 1197.4L1054.3 1204.2L1055.6 1211.1L1057.0 1218.1L1058.4 1225.0L1059.8 1231.9L1061.3 1238.9L1062.7 1245.9L1064.3 1252.9L1065.8 1259.9L1067.4 1266.9L1069.0 1274.0L1070.7 1281.0L1072.4 1288.1L1074.2 1295.2L1076.0 1302.3L1077.9 1309.4L1079.8 1316.6L1081.8 1323.7L1083.9 1330.9L1086.1 1338.0L1088.3 1345.2L1090.6 1352.5L1093.0 1359.7L1095.5 1366.9L1098.1 1374.2L1100.8 1381.5L1103.6 1388.7L1106.6 1396.0L1109.8 1403.4L1113.1 1410.7L1116.5 1418.0L1120.2 1425.4L1124.2 1432.8L1128.3 1440.2L1132.8 1447.6L1137.6 1455.0L1144.6 1463.8L1147.0 1466.8L1149.3 1469.7L1151.7 1472.5L1154.0 1475.2L1156.4 1477.8L1158.7 1480.4L1161.1 1482.8L1163.4 1485.2L1165.8 1487.5L1168.1 1489.8L1170.4 1492.0L1172.8 1494.1L1175.1 1496.2L1177.5 1498.2L1179.8 1500.1L1182.2 1502.0L1184.5 1503.8L1186.9 1505.6L1189.2 1507.3L1191.5 1508.9L1193.9 1510.5L1196.2 1512.1L1198.6 1513.6L1200.9 1515.1L1203.3 1516.5L1205.6 1517.9L1208.0 1519.3L1210.3 1520.6L1212.7 1521.9L1215.0 1523.2L1217.3 1524.4L1219.7 1525.6L1222.0 1526.7L1224.4 1527.9L1226.7 1529.0L1229.1 1530.1L1231.4 1531.2L1233.8 1532.2L1236.1 1533.3L1238.5 1534.3L1240.8 1535.3L1243.1 1536.3L1245.5 1537.3L1247.8 1538.2L1250.2 1539.1L1252.5 1540.0L1254.9 1540.9L1257.2 1541.8L1259.6 1542.7L1261.9 1543.5L1264.3 1544.3L1266.6 1545.1L1268.9 1545.9L1271.3 1546.7L1273.6 1547.5L1276.0 1548.2L1278.3 1548.9L1280.7 1549.6L1283.0 1550.3L1285.4 1551.0L1287.7 1551.7L1290.0 1552.3L1292.4 1553.0L1294.7 1553.6L1297.1 1554.2L1299.4 1554.8L1301.8 1555.4L1304.1 1555.9L1306.5 1556.5L1308.8 1557.0L1311.2 1557.6L1313.5 1558.1L1315.8 1558.6L1318.2 1559.1L1320.5 1559.6L1322.9 1560.0L1325.2 1560.5L1327.6 1560.9L1329.9 1561.4L1332.3 1561.8L1334.6 1562.2L1337.0 1562.6L1339.3 1563.0L1341.6 1563.4L1344.0 1563.8L1346.3 1564.1L1348.7 1564.5L1351.0 1564.9L1353.4 1565.2L1355.7 1565.5L1358.1 1565.8L1360.4 1566.2L1362.8 1566.5L1365.1 1566.8L1367.4 1567.1L1369.8 1567.3L1372.1 1567.6L1374.5 1567.9L1376.8 1568.1L1379.2 1568.4L1381.5 1568.7L1383.9 1568.9L1386.2 1569.1L1388.5 1569.4L1390.9 1569.6L1393.2 1569.8L1395.6 1570.0L1397.9 1570.3L1400.3 1570.5L1402.6 1570.7L1405.0 1570.9L1407.3 1571.1L1409.7 1571.3L1412.0 1571.4L1414.3 1571.6L1416.7 1571.8L1419.0 1572.0L1421.4 1572.2L1423.7 1572.3L1426.1 1572.5L1428.4 1572.7L1430.8 1572.9L1433.1 1573.0L1435.5 1573.2L1437.8 1573.4L1440.1 1573.5L1442.5 1573.7L1444.8 1573.9L1447.2 1574.0L1449.5 1574.2L1451.9 1574.3L1454.2 1574.5L1456.6 1574.7L1458.9 1574.8L1461.3 1575.0L1463.6 1575.2L1465.9 1575.3L1468.3 1575.5L1470.6 1575.7L1473.0 1575.9L1475.3 1576.0L1477.7 1576.2L1480.0 1576.4L1482.4 1576.6L1484.7 1576.8L1487.0 1577.0L1489.4 1577.2L1491.7 1577.4L1494.1 1577.6L1496.4 1577.8L1498.8 1578.0L1501.1 1578.2L1503.5 1578.4L1505.8 1578.6L1508.2 1578.9L1510.5 1579.1" fill="none" stroke="#0000ff" stroke-width="9.0" stroke-linejoin="round" stroke-linecap="butt"/>
<path d="M94.0 1601.7L96.2 1601.5L98.4 1601.3L100.6 1601.1L102.8 1600.9L105.0 1600.8L107.2 1600.6L109.4 1600.5L111.6 1600.4L113.8 1600.2L115.9 1600.1L118.1 1600.0L120.3 1599.9L122.5 1599.8L124.7 1599.7L126.9 1599.6L129.1 1599.5L131.3 1599.5L133.5 1599.4L135.7 1599.3L137.9 1599.3L140.1 1599.2L142.3 1599.2L144.5 1599.1L146.7 1599.1L148.9 1599.1L151.1 1599.0L153.3 1599.0L155.5 1599.0L157.7 1599.0L159.8 1598.9L162.0 1598.9L164.2 1598.9L166.4 1598.9L168.6 1598.9L170.8 1598.8L173.0 1598.8L175.2 1598.8L177.4 1598.8L179.6 1598.8L181.8 1598.8L184.0 1598.8L186.2 1598.8L188.4 1598.8L190.6 1598.7L192.8 1598.7L195.0 1598.7L197.2 1598.7L199.4 1598.7L201.5 1598.6L203.7 1598.6L205.9 1598.6L208.1 1598.5L210.3 1598.5L212.5 1598.5L214.7 1598.4L216.9 1598.4L219.1 1598.3L221.3 1598.3L223.5 1598.2L225.7 1598.1L227.9 1598.0L230.1 1598.0L232.3 1597.9L234.5 1597.8L236.7 1597.7L238.9 1597.6L241.1 1597.5L243.3 1597.3L245.4 1597.2L247.6 1597.1L249.8 1596.9L252.0 1596.8L254.2 1596.6L256.4 1596.4L258.6 1596.3L260.8 1596.1L263.0 1595.9L265.2 1595.7L267.4 1595.4L269.6 1595.2L271.8 1595.0L274.0 1594.7L276.2 1594.5L278.4 1594.2L280.6 1593.9L282.8 1593.6L285.0 1593.3L287.1 1593.0L289.3 1592.6L291.5 1592.3L293.7 1591.9L295.9 1591.6L298.1 1591.2L300.3 1590.8L302.5 1590.3L304.7 1589.9L306.9 1589.5L309.1 1589.0L311.3 1588.5L313.5 1588.0L315.7 1587.5L317.9 1587.0L320.1 1586.5L322.3 1585.9L324.5 1585.3L326.7 1584.7L328.9 1584.1L331.0 1583.5L333.2 1582.8L335.4 1582.1L337.6 1581.4L339.8 1580.7L342.0 1579.9L344.2 1579.1L346.4 1578.2L348.6 1577.4L350.8 1576.4L353.0 1575.5L355.2 1574.5L357.4 1573.4L359.6 1572.3L361.8 1571.2L364.0 1570.0L366.2 1568.7L368.4 1567.4L370.6 1566.0L372.7 1564.5L374.9 1563.0L377.1 1561.4L379.3 1559.7L381.5 1557.9L383.7 1556.0L385.9 1554.1L388.1 1552.0L390.3 1549.8L392.5 1547.6L394.7 1545.2L396.9 1542.7L399.1 1540.1L401.3 1537.4L403.5 1534.5L405.7 1531.6L407.9 1528.4L410.1 1525.2L412.3 1521.7L414.5 1518.2L416.6 1514.4L418.8 1510.5L421.0 1506.5L423.2 1502.2L425.4 1497.8L427.6 1493.2L429.8 1488.4L432.0 1483.4L434.2 1478.1L436.4 1472.7L443.0 1455.0L445.3 1447.6L447.6 1440.2L449.7 1432.8L451.7 1425.4L453.6 1418.0L455.5 1410.7L457.3 1403.4L459.0 1396.0L460.6 1388.7L462.2 1381.5L463.8 1374.2L465.3 1366.9L466.7 1359.7L468.1 1352.5L469.5 1345.2L470.8 1338.0L472.1 1330.9L473.4 1323.7L474.6 1316.6L475.8 1309.4L477.0 1302.3L478.2 1295.2L479.3 1288.1L480.4 1281.0L481.5 1274.0L482.6 1266.9L483.6 1259.9L484.6 1252.9L485.6 1245.9L486.6 1238.9L487.6 1231.9L488.6 1225.0L489.5 1218.1L490.4 1211.1L491.3 1204.2L492.2 1197.4L493.1 1190.5L494.0 1183.6L494.9 1176.8L495.7 1170.0L496.6 1163.2L497.4 1156.4L498.2 1149.6L499.0 1142.8L499.8 1136.1L500.6 1129.4L501.4 1122.6L502.2 1115.9L502.9 1109.3L503.7 1102.6L504.4 1096.0L505.2 1089.3L505.9 1082.7L506.6 1076.1L507.3 1069.5L508.0 1062.9L508.7 1056.4L509.4 1049.9L510.1 1043.3L510.8 1036.8L511.5 1030.3L512.2 1023.9L512.8 1017.4L513.5 1011.0L514.1 1004.6L514.8 998.2L515.4 991.8L516.1 985.4L516.7 979.0L517.3 972.7L518.0 966.4L518.6 960.1L519.2 953.8L519.8 947.5L520.4 941.3L521.0 935.0L521.6 928.8L522.2 922.6L522.8 916.4L523.4 910.2L524.0 904.1L524.6 897.9L525.1 891.8L525.7 885.7L526.3 879.6L526.8 873.6L527.4 867.5L528.0 861.5L528.5 855.4L529.1 849.4L529.6 843.5L530.2 837.5L530.7 831.5L531.3 825.6L531.8 819.7L532.3 813.8L532.9 807.9L533.4 802.1L533.9 796.2L534.4 790.4L535.0 784.6L535.5 778.8L536.0 773.0L536.5 767.2L537.0 761.5L537.5 755.8L538.0 750.1L538.5 744.4L539.0 738.7L539.5 733.1L540.0 727.4L540.5 721.8L541.0 716.2L541.5 710.6L542.0 705.1L542.5 699.5L543.0 694.0L543.5 688.5L544.0 683.0L544.4 677.5L544.9 672.1L545.4 666.7L545.9 661.2L546.3 655.9L546.8 650.5L547.3 645.1L547.8 639.8L548.2 634.5L548.7 629.1L549.2 623.9L549.6 618.6L550.1 613.3L550.5 608.1L551.0 602.9L551.5 597.7L551.9 592.5L552.4 587.4L552.8 582.3L553.3 577.1L553.7 572.0L554.2 567.0L554.6 561.9L555.1 556.9L555.5 551.9L556.0 546.9L556.4 541.9L556.8 536.9L557.3 532.0L557.7 527.1L558.2 522.2L558.6 517.3L559.0 512.4L559.5 507.6L559.9 502.7L560.3 497.9L560.8 493.2L561.2 488.4L561.6 483.7L562.1 478.9L562.5 474.2L562.9 469.5L563.3 464.9L563.8 460.2L564.2 455.6L564.6 451.0L565.0 446.4L565.5 441.9L565.9 437.3L566.3 432.8L566.7 428.3L567.2 423.9L567.6 419.4L568.0 415.0L568.4 410.6L568.8 406.2L569.2 401.8L569.7 397.4L570.1 393.1L570.5 388.8L570.9 384.5L571.3 380.3L571.7 376.0L572.2 371.8L572.6 367.6L573.0 363.4L573.4 359.3L573.8 355.1L574.2 351.0L574.6 346.9L575.0 342.9L575.5 338.8L575.9 334.8L576.3 330.8L576.7 326.8L577.1 322.9L577.5 318.9L577.9 315.0L578.3 311.1L578.7 307.3L579.1 303.4L579.5 299.6L580.0 295.8L580.4 292.1L580.8 288.3L581.2 284.6L581.6 280.9L582.0 277.2L582.4 273.6L582.8 269.9L583.2 266.3L583.6 262.8L584.0 259.2L584.4 255.7L584.9 252.2L585.3 248.7L585.7 245.2L586.1 241.8L586.5 238.4L586.9 235.0L587.3 231.7L587.7 228.3L588.1 225.0L588.5 221.7L589.0 218.5L589.4 215.3L589.8 212.1L590.2 208.9L590.6 205.7L591.0 202.6L591.4 199.5L591.9 196.5L592.3 193.4L592.7 190.4L593.1 187.4L593.5 184.4L593.9 181.5L594.4 178.6L594.8 175.7L595.2 172.9L595.6 170.1L596.0 167.3L596.5 164.5L596.9 161.8L597.3 159.1L597.7 156.4L598.2 153.8L598.6 151.1L599.0 148.6L599.5 146.0L599.9 143.5L600.3 141.0L600.8 138.5L601.2 136.1L601.6 133.7L602.1 131.3L602.5 129.0L603.0 126.7L603.4 124.4L603.9 122.2L604.3 120.0L604.8 117.8L605.2 115.6L605.7 113.5L606.1 111.5L606.6 109.4L607.1 107.4L607.5 105.5L608.0 103.6L608.5 101.7L608.9 99.8L609.4 98.0L609.9 96.2L610.4 94.5L610.9 92.8L611.4 91.1L611.9 89.5L612.4 87.9L612.9 86.4L613.4 84.9L613.9 83.5L614.5 82.1L615.0 80.7L615.5 79.4L616.1 78.2L616.6 77.0L617.2 75.8L617.8 74.7L618.3 73.6L618.9 72.6L619.5 71.7L620.2 70.8L620.8 70.0L622.1 68.6L623.6 67.5L625.3 66.8L626.5 66.6L627.7 66.8L629.4 67.5L630.9 68.6L632.2 70.0L632.8 70.8L633.4 71.7L634.0 72.6L634.6 73.6L635.2 74.7L635.8 75.8L636.3 77.0L636.9 78.2L637.4 79.4L637.9 80.7L638.5 82.1L639.0 83.5L639.5 84.9L640.0 86.4L640.5 87.9L641.0 89.5L641.5 91.1L642.0 92.8L642.5 94.5L643.0 96.2L643.5 98.0L643.9 99.8L644.4 101.7L644.9 103.6L645.4 105.5L645.8 107.4L646.3 109.4L646.8 111.5L647.2 113.5L647.7 115.6L648.1 117.8L648.6 120.0L649.0 122.2L649.5 124.4L649.9 126.7L650.4 129.0L650.8 131.3L651.3 133.7L651.7 136.1L652.2 138.5L652.6 141.0L653.1 143.5L653.5 146.0L653.9 148.6L654.4 151.1L654.8 153.8L655.3 156.4L655.7 159.1L656.1 161.8L656.6 164.5L657.0 167.3L657.4 170.1L657.9 172.9L658.3 175.7L658.7 178.6L659.2 181.5L659.6 184.4L660.0 187.4L660.5 190.4L660.9 193.4L661.3 196.5L661.8 199.5L662.2 202.6L662.6 205.7L663.1 208.9L663.5 212.1L663.9 215.3L664.4 218.5L664.8 221.7L665.2 225.0L665.7 228.3L666.1 231.7L666.6 235.0L667.0 238.4L667.4 241.8L667.9 245.2L668.3 248.7L668.7 252.2L669.2 255.7L669.6 259.2L670.1 262.8L670.5 266.3L670.9 269.9L671.4 273.6L671.8 277.2L672.3 280.9L672.7 284.6L673.2 288.3L673.6 292.1L674.1 295.8L674.5 299.6L674.9 303.4L675.4 307.3L675.8 311.1L676.3 315.0L676.8 318.9L677.2 322.9L677.7 326.8L678.1 330.8L678.6 334.8L679.0 338.8L679.5 342.9L680.0 346.9L680.4 351.0L680.9 355.1L681.3 359.3L681.8 363.4L682.3 367.6L682.7 371.8L683.2 376.0L683.7 380.3L684.1 384.5L684.6 388.8L685.1 393.1L685.6 397.4L686.0 401.8L686.5 406.2L687.0 410.6L687.5 415.0L688.0 419.4L688.5 423.9L688.9 428.3L689.4 432.8L689.9 437.3L690.4 441.9L690.9 446.4L691.4 451.0L691.9 455.6L692.4 460.2L692.9 464.9L693.4 469.5L693.9 474.2L694.4 478.9L694.9 483.7L695.4 488.4L696.0 493.2L696.5 497.9L697.0 502.7L697.5 507.6L698.0 512.4L698.6 517.3L699.1 522.2L699.6 527.1L700.1 532.0L700.7 536.9L701.2 541.9L701.7 546.9L702.3 551.9L702.8 556.9L703.4 561.9L703.9 567.0L704.5 572.0L705.0 577.1L705.6 582.3L706.1 587.4L706.7 592.5L707.3 597.7L707.8 602.9L708.4 608.1L709.0 613.3L709.6 618.6L710.1 623.9L710.7 629.1L711.3 634.5L711.9 639.8L712.5 645.1L713.1 650.5L713.7 655.9L714.3 661.2L714.9 666.7L715.5 672.1L716.1 677.5L716.8 683.0L717.4 688.5L718.0 694.0L718.6 699.5L719.3 705.1L719.9 710.6L720.5 716.2L721.2 721.8L721.8 727.4L722.5 733.1L723.2 738.7L723.8 744.4L724.5 750.1L725.2 755.8L725.8 761.5L726.5 767.2L727.2 773.0L727.9 778.8L728.6 784.6L729.3 790.4L730.0 796.2L730.7 802.1L731.5 807.9L732.2 813.8L732.9 819.7L733.7 825.6L734.4 831.5L735.2 837.5L735.9 843.5L736.7 849.4L737.4 855.4L738.2 861.5L739.0 867.5L739.8 873.6L740.6 879.6L741.4 885.7L742.2 891.8L743.0 897.9L743.9 904.1L744.7 910.2L745.6 916.4L746.4 922.6L747.3 928.8L748.1 935.0L749.0 941.3L749.9 947.5L750.8 953.8L751.7 960.1L752.7 966.4L753.6 972.7L754.5 979.0L755.5 985.4L756.5 991.8L757.4 998.2L758.4 1004.6L759.4 1011.0L760.5 1017.4L761.5 1023.9L762.5 1030.3L763.6 1036.8L764.7 1043.3L765.8 1049.9L766.9 1056.4L768.0 1062.9L769.1 1069.5L770.3 1076.1L771.5 1082.7L772.6 1089.3L773.9 1096.0L775.1 1102.6L776.3 1109.3L777.6 1115.9L778.9 1122.6L780.2 1129.4L781.6 1136.1L782.9 1142.8L784.3 1149.6L785.7 1156.4L787.2 1163.2L788.7 1170.0L790.2 1176.8L791.7 1183.6L793.3 1190.5L794.9 1197.4L796.6 1204.2L798.2 1211.1L800.0 1218.1L801.7 1225.0L803.5 1231.9L805.4 1238.9L807.3 1245.9L809.3 1252.9L811.3 1259.9L813.3 1266.9L815.5 1274.0L817.7 1281.0L819.9 1288.1L822.2 1295.2L824.7 1302.3L827.1 1309.4L829.7 1316.6L832.4 1323.7L835.2 1330.9L838.0 1338.0L841.0 1345.2L844.1 1352.5L847.4 1359.7L850.8 1366.9L854.3 1374.2L858.0 1381.5L861.9 1388.7L866.0 1396.0L870.3 1403.4L874.9 1410.7L879.7 1418.0L884.8 1425.4L890.2 1432.8L896.0 1440.2L902.2 1447.6L908.9 1455.0L917.8 1463.3L920.7 1466.3L923.7 1469.2L926.7 1472.0L929.7 1474.7L932.6 1477.3L935.6 1479.8L938.6 1482.2L941.5 1484.5L944.5 1486.8L947.5 1489.0L950.4 1491.1L953.4 1493.2L956.4 1495.2L959.3 1497.1L962.3 1499.0L965.3 1500.9L968.3 1502.7L971.2 1504.4L974.2 1506.1L977.2 1507.8L980.1 1509.4L983.1 1511.0L986.1 1512.6L989.0 1514.2L992.0 1515.7L995.0 1517.2L998.0 1518.7L1000.9 1520.2L1003.9 1521.6L1006.9 1523.0L1009.8 1524.4L1012.8 1525.7L1015.8 1527.0L1018.7 1528.3L1021.7 1529.6L1024.7 1530.9L1027.6 1532.1L1030.6 1533.3L1033.6 1534.5L1036.6 1535.6L1039.5 1536.8L1042.5 1537.9L1045.5 1539.0L1048.4 1540.0L1051.4 1541.1L1054.4 1542.1L1057.3 1543.1L1060.3 1544.1L1063.3 1545.1L1066.2 1546.0L1069.2 1546.9L1072.2 1547.8L1075.2 1548.7L1078.1 1549.6L1081.1 1550.4L1084.1 1551.2L1087.0 1552.0L1090.0 1552.8L1093.0 1553.6L1095.9 1554.4L1098.9 1555.1L1101.9 1555.8L1104.8 1556.5L1107.8 1557.2L1110.8 1557.8L1113.8 1558.5L1116.7 1559.1L1119.7 1559.7L1122.7 1560.3L1125.6 1560.9L1128.6 1561.5L1131.6 1562.1L1134.5 1562.6L1137.5 1563.1L1140.5 1563.6L1143.5 1564.1L1146.4 1564.6L1149.4 1565.1L1152.4 1565.6L1155.3 1566.0L1158.3 1566.4L1161.3 1566.9L1164.2 1567.3L1167.2 1567.7L1170.2 1568.1L1173.1 1568.4L1176.1 1568.8L1179.1 1569.2L1182.1 1569.5L1185.0 1569.8L1188.0 1570.2L1191.0 1570.5L1193.9 1570.8L1196.9 1571.1L1199.9 1571.4L1202.8 1571.7L1205.8 1571.9L1208.8 1572.2L1211.7 1572.5L1214.7 1572.7L1217.7 1572.9L1220.7 1573.2L1223.6 1573.4L1226.6 1573.6L1229.6 1573.8L1232.5 1574.1L1235.5 1574.3L1238.5 1574.5L1241.4 1574.7L1244.4 1574.8L1247.4 1575.0L1250.3 1575.2L1253.3 1575.4L1256.3 1575.6L1259.3 1575.7L1262.2 1575.9L1265.2 1576.1L1268.2 1576.2L1271.1 1576.4L1274.1 1576.5L1277.1 1576.7L1280.0 1576.8L1283.0 1577.0L1286.0 1577.1L1288.9 1577.3L1291.9 1577.4L1294.9 1577.6L1297.9 1577.7L1300.8 1577.9L1303.8 1578.0L1306.8 1578.1L1309.7 1578.3L1312.7 1578.4L1315.7 1578.6L1318.6 1578.7L1321.6 1578.9L1324.6 1579.1L1327.6 1579.2L1330.5 1579.4L1333.5 1579.5L1336.5 1579.7L1339.4 1579.9L1342.4 1580.1L1345.4 1580.2L1348.3 1580.4L1351.3 1580.6L1354.3 1580.8L1357.2 1581.0L1360.2 1581.2L1363.2 1581.4L1366.2 1581.6L1369.1 1581.8L1372.1 1582.1L1375.1 1582.3L1378.0 1582.5L1381.0 1582.8" fill="none" stroke="#ff00ff" stroke-width="9.0" stroke-linejoin="round" stroke-linecap="butt"/>
<rect x="29" y="1730.6" width="2305.7" height="9.3" fill="#000"/>
<rect x="85.0" y="1739" width="9" height="37.7" fill="#000"/>
<rect x="214.1" y="1739" width="9" height="19.2" fill="#000"/>
<rect x="343.1" y="1739" width="9" height="37.7" fill="#000"/>
<rect x="472.2" y="1739" width="9" height="19.2" fill="#000"/>
<rect x="601.2" y="1739" width="9" height="37.7" fill="#000"/>
<rect x="730.3" y="1739" width="9" height="19.2" fill="#000"/>
<rect x="859.4" y="1739" width="9" height="37.7" fill="#000"/>
<rect x="988.4" y="1739" width="9" height="19.2" fill="#000"/>
<rect x="1117.5" y="1739" width="9" height="37.7" fill="#000"/>
<rect x="1246.6" y="1739" width="9" height="19.2" fill="#000"/>
<rect x="1375.6" y="1739" width="9" height="37.7" fill="#000"/>
<rect x="1504.7" y="1739" width="9" height="19.2" fill="#000"/>
<rect x="1633.8" y="1739" width="9" height="37.7" fill="#000"/>
<rect x="1762.8" y="1739" width="9" height="19.2" fill="#000"/>
<rect x="1891.9" y="1739" width="9" height="37.7" fill="#000"/>
<rect x="2020.9" y="1739" width="9" height="19.2" fill="#000"/>
<rect x="2150.0" y="1739" width="9" height="37.7" fill="#000"/>
<rect x="2279.1" y="1739" width="9" height="19.2" fill="#000"/>
<text x="35.0" y="1878" class="t" letter-spacing="4">18</text>
<text x="294.6" y="1878" class="t" letter-spacing="4">20</text>
<text x="548.6" y="1878" class="t" letter-spacing="4">22</text>
<text x="808.6" y="1878" class="t" letter-spacing="4">24</text>
<text x="1067.1" y="1878" class="t" letter-spacing="4">26</text>
<text x="1321.8" y="1878" class="t" letter-spacing="4">28</text>
<text x="1581.8" y="1878" class="t" letter-spacing="4">30</text>
<text x="1840.3" y="1878" class="t" letter-spacing="4">32</text>
<text x="2100.1" y="1878" class="t" letter-spacing="4">34</text>
<text x="643.4" y="2054.3" class="t" style="font-size:103px">Retension Time (min)</text>
<rect x="1453.1" y="59.6" width="846.8" height="514" fill="none" stroke="#000" stroke-width="4.2"/>
<rect x="1506.2" y="122.0" width="231.6" height="9.4" fill="#000000"/>
<rect x="1501.6" y="126.8" width="4.8" height="4.7" fill="#000000"/>
<text x="1758.9" y="162.9" class="t">100 MMBL</text>
<rect x="1506.2" y="252.1" width="231.6" height="9.4" fill="#ff0000"/>
<rect x="1501.6" y="256.8" width="4.8" height="4.7" fill="#ff0000"/>
<text x="1752.0" y="292.7" class="t">200 MMBL</text>
<rect x="1506.2" y="381.6" width="231.6" height="9.4" fill="#0000ff"/>
<rect x="1501.6" y="386.2" width="4.8" height="4.7" fill="#0000ff"/>
<text x="1755.0" y="417.6" class="t">400 MMBL</text>
<rect x="1506.2" y="511.2" width="231.6" height="9.4" fill="#ff00ff"/>
<rect x="1501.6" y="515.9" width="4.8" height="4.7" fill="#ff00ff"/>
<text x="1753.4" y="547.8" class="t">800 MMBL</text>
</svg>
</body></html>
